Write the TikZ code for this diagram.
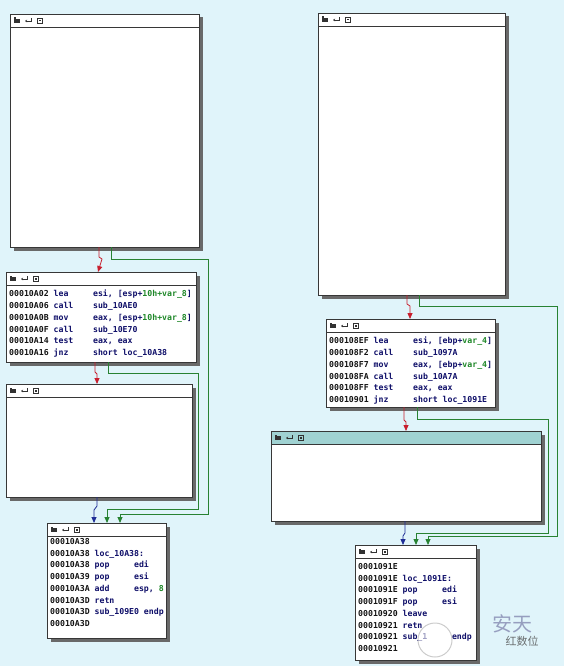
\documentclass[tikz,border=0pt]{standalone}
\usepackage{fontspec}
\newfontfamily\codefont{DejaVu Sans Mono}
\newfontfamily\cjk{Noto Sans CJK SC}
\usetikzlibrary{arrows.meta}
\usetikzlibrary{shadows}
\definecolor{bg-cyan}{RGB}{224, 244, 250}
\definecolor{box-edge}{RGB}{55, 55, 55}
\definecolor{box-shadow}{RGB}{105, 105, 105}
\definecolor{bar-teal}{RGB}{160, 210, 210}
\definecolor{icon-gray}{RGB}{50, 50, 50}
\definecolor{edge-red}{RGB}{200, 30, 45}
\definecolor{edge-green}{RGB}{40, 130, 50}
\definecolor{edge-blue}{RGB}{30, 45, 150}
\definecolor{code-blue}{RGB}{15, 15, 105}
\definecolor{var-green}{RGB}{30, 135, 40}
\definecolor{addr-black}{RGB}{20, 20, 20}
\newcommand{\ad}[1]{{\color{addr-black}#1}}
\newcommand{\va}[1]{{\color{var-green}#1}}
\tikzset{
  blk/.style={draw=box-edge, fill=white, line width=0.8pt, inner sep=0pt, outer sep=0pt, anchor=north west,
    drop shadow={shadow xshift=3.5pt, shadow yshift=-3.5pt, fill=box-shadow, opacity=1}},
  code/.style={font={\codefont\bfseries\fontsize{8.2pt}{11.75pt}\selectfont}, text=code-blue, align=left, anchor=north west, inner sep=0pt},
  tip/.style={-{Triangle[width=5pt,length=6pt]}},
  rline/.style={tip, draw=edge-red, line width=0.8pt},
  gline/.style={tip, draw=edge-green, line width=0.8pt},
  bline/.style={tip, draw=edge-blue, line width=0.8pt},
}
% title bar of a block with its three icons
\newcommand{\idabar}[2]{%
  \filldraw[fill=#2, draw=box-edge, line width=0.8pt] (#1.north west) rectangle ([yshift=-13pt]#1.north east);
  \fill[icon-gray] ([shift={(4pt,-5pt)}]#1.north west) rectangle ++(6pt,-4pt);
  \fill[icon-gray] ([shift={(4pt,-3.5pt)}]#1.north west) rectangle ++(2pt,-2pt);
  \draw[icon-gray, line width=0.6pt, -{Stealth[length=2pt,width=2.5pt]}] ([shift={(21pt,-4pt)}]#1.north west) -- ++(0pt,-3pt) -- ++(-6pt,0pt);
  \draw[icon-gray, line width=0.6pt] ([shift={(27pt,-4.5pt)}]#1.north west) rectangle ++(5pt,-4.5pt);
  \fill[icon-gray] ([shift={(28.5pt,-6pt)}]#1.north west) rectangle ++(2pt,-1.5pt);
}
\begin{document}
\begin{tikzpicture}[x=1pt, y=-1pt]
  \useasboundingbox (0,0) rectangle (564,666);
  \fill[bg-cyan] (0,0) rectangle (564,666);

  % left graph
  \node[blk, minimum width=189pt, minimum height=233pt] (L1) at (10,14) {};
  \node[blk, minimum width=190pt, minimum height=90pt] (L2) at (6,272) {};
  \node[blk, minimum width=186pt, minimum height=113pt] (L3) at (6,384) {};
  \node[blk, minimum width=119pt, minimum height=115pt] (L4) at (47,523) {};
  \idabar{L1}{white}
  \idabar{L2}{white}
  \idabar{L3}{white}
  \idabar{L4}{white}

  \node[code] (L2code) at ([shift={(3pt,-18pt)}]L2.north west) {%
    \ad{00010A02} lea~~~~~esi, [esp+\va{10h+var\_8}]\\
    \ad{00010A06} call~~~~sub\_10AE0\\
    \ad{00010A0B} mov~~~~~eax, [esp+\va{10h+var\_8}]\\
    \ad{00010A0F} call~~~~sub\_10E70\\
    \ad{00010A14} test~~~~eax, eax\\
    \ad{00010A16} jnz~~~~~short loc\_10A38};
  \node[code] (L4code) at ([shift={(3pt,-15pt)}]L4.north west) {%
    \ad{00010A38}\\
    \ad{00010A38} loc\_10A38:\\
    \ad{00010A38} pop~~~~~edi\\
    \ad{00010A39} pop~~~~~esi\\
    \ad{00010A3A} add~~~~~esp, \va{8}\\
    \ad{00010A3D} retn\\
    \ad{00010A3D} sub\_109E0 endp\\
    \ad{00010A3D}};

  \draw[rline] ([xshift=89pt]L1.south west) -- ++(0,10) -- ++(3,2) -- ([xshift=92pt]L2.north west);
  \draw[gline] ([xshift=101pt]L1.south west) |- (208,259) |- ([xshift=73pt,yshift=9pt]L4.north west) -- ([xshift=73pt]L4.north west);
  \draw[gline] ([xshift=102pt]L2.south west) |- (198,373) |- ([xshift=60pt,yshift=14pt]L4.north west) -- ([xshift=60pt]L4.north west);
  \draw[rline] ([xshift=89pt]L2.south west) -- ++(0,10) -- ++(2,2) -- ([xshift=91pt]L3.north west);
  \draw[bline] ([xshift=91pt]L3.south west) -- ++(0,9) -- ++(-3,4) -- ([xshift=47pt]L4.north west);

  % right graph
  \node[blk, minimum width=187pt, minimum height=282pt] (R1) at (318,13) {};
  \node[blk, minimum width=169pt, minimum height=88pt] (R2) at (326,319) {};
  \node[blk, minimum width=270pt, minimum height=90pt] (R3) at (271,431) {};
  \node[blk, minimum width=121pt, minimum height=115pt] (R4) at (355,545) {};
  \idabar{R1}{white}
  \idabar{R2}{white}
  \idabar{R3}{bar-teal}
  \idabar{R4}{white}

  \node[code] (R2code) at ([shift={(3pt,-18pt)}]R2.north west) {%
    \ad{000108EF} lea~~~~~esi, [ebp+\va{var\_4}]\\
    \ad{000108F2} call~~~~sub\_1097A\\
    \ad{000108F7} mov~~~~~eax, [ebp+\va{var\_4}]\\
    \ad{000108FA} call~~~~sub\_10A7A\\
    \ad{000108FF} test~~~~eax, eax\\
    \ad{00010901} jnz~~~~~short loc\_1091E};
  \node[code] (R4code) at ([shift={(3pt,-18pt)}]R4.north west) {%
    \ad{0001091E}\\
    \ad{0001091E} loc\_1091E:\\
    \ad{0001091E} pop~~~~~edi\\
    \ad{0001091F} pop~~~~~esi\\
    \ad{00010920} leave\\
    \ad{00010921} retn\\
    \ad{00010921} sub\_1\phantom{0000} endp\\
    \ad{00010921}};

  \draw[rline] ([xshift=89pt]R1.south west) -- ++(0,9) -- ++(3,2) -- ([xshift=84pt]R2.north west);
  \draw[gline] ([xshift=101pt]R1.south west) |- (557,306) |- ([xshift=73pt,yshift=9pt]R4.north west) -- ([xshift=73pt]R4.north west);
  \draw[gline] ([xshift=91pt]R2.south west) |- (548,419) |- ([xshift=61pt,yshift=12pt]R4.north west) -- ([xshift=61pt]R4.north west);
  \draw[rline] ([xshift=78pt]R2.south west) -- ++(0,13) -- ++(2,2) -- ([xshift=135pt]R3.north west);
  \draw[bline] ([xshift=134pt]R3.south west) -- ++(0,12) -- ++(-2,3) -- ([xshift=48pt]R4.north west);

  % watermark
  \filldraw[fill=white, fill opacity=0.6, draw=gray, draw opacity=0.4, line width=1pt] (435,640) circle (17pt);
  \node[font={\cjk\fontsize{20pt}{20pt}\selectfont}, text=gray!80!blue, text opacity=0.6] (wm1) at (512,624) {安天};
  \node[font={\cjk\fontsize{11pt}{11pt}\selectfont}, text=gray!60!black, text opacity=0.8] (wm2) at (522,641) {红数位};
\end{tikzpicture}
\end{document}
